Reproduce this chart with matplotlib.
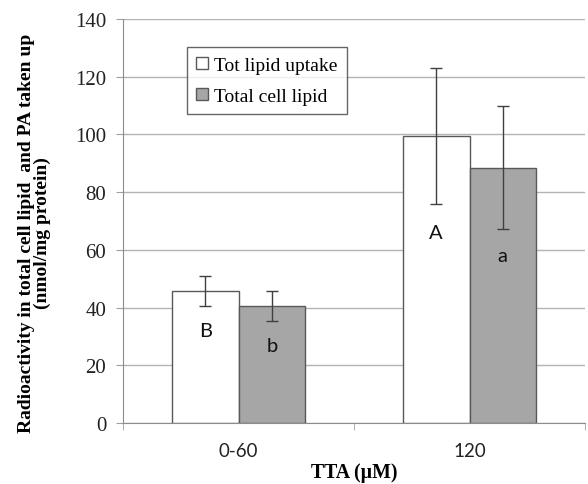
import numpy as np
import matplotlib.pyplot as plt
from matplotlib.ticker import FixedLocator

# data
grupos = ['0-60', '120']
tot_lipid_uptake = [45.8, 99.5]
tot_lipid_err = [5.2, 23.6]
total_cell_lipid = [40.5, 88.4]
total_cell_err = [5.3, 21.3]
letras_uptake = ['B', 'A']
letras_cell = ['b', 'a']
letras_uptake_y = [32, 66]
letras_cell_y = [27, 58]

serif = ['Liberation Serif', 'DejaVu Serif']
sans = ['Lato', 'DejaVu Sans']

fig = plt.figure(figsize=(5.88, 4.85), dpi=100)
ax = fig.add_axes([0.2092, 0.1258, 0.7857, 0.833])

x = np.arange(len(grupos))
largura = 0.288
borda = '#595959'

ax.bar(x - largura / 2, tot_lipid_uptake, largura, color='white',
       edgecolor=borda, linewidth=1.0, label='Tot lipid uptake', zorder=2)
ax.bar(x + largura / 2, total_cell_lipid, largura, color='#a6a6a6',
       edgecolor=borda, linewidth=1.0, label='Total cell lipid', zorder=2)
ax.errorbar(x - largura / 2, tot_lipid_uptake, yerr=tot_lipid_err, fmt='none',
            ecolor='#404040', elinewidth=1.0, capsize=4, capthick=1.0, zorder=3)
ax.errorbar(x + largura / 2, total_cell_lipid, yerr=total_cell_err, fmt='none',
            ecolor='#404040', elinewidth=1.0, capsize=4, capthick=1.0, zorder=3)

for i in range(len(grupos)):
    ax.text(x[i] - largura / 2, letras_uptake_y[i], letras_uptake[i],
            ha='center', va='center', fontsize=14.5, family=sans, color='#111111')
    ax.text(x[i] + largura / 2, letras_cell_y[i], letras_cell[i],
            ha='center', va='center', fontsize=14.5, family=sans, color='#111111')

ax.set_xlim(-0.5, len(grupos) - 0.5)
ax.set_ylim(0, 140)
ax.set_yticks(range(0, 141, 20))
ax.yaxis.grid(True, color='#b3b3b3', linewidth=1.0, zorder=0)
ax.set_axisbelow(True)

ax.set_xticks(x)
ax.set_xticklabels(grupos, family=sans, fontsize=13.5, color='#222222')
ax.xaxis.set_minor_locator(FixedLocator([-0.5, 0.5, 1.5]))
ax.tick_params(axis='x', which='major', length=0, pad=14)
ax.tick_params(axis='x', which='minor', length=5, color='#a0a0a0', direction='out')
ax.tick_params(axis='y', length=5, color='#a0a0a0', pad=7, labelsize=15,
               labelcolor='#222222')
for lbl in ax.get_yticklabels():
    lbl.set_family(serif)

for lado in ['top', 'right']:
    ax.spines[lado].set_visible(False)
ax.spines['left'].set_color('#8c8c8c')
ax.spines['bottom'].set_color('#8c8c8c')

ax.set_xlabel('TTA (\u00b5M)', family=serif, fontweight='bold', fontsize=14.3,
              labelpad=2)
ax.set_ylabel('Radioactivity in total cell lipid  and PA taken up\n(nmol/mg protein)',
              family=serif, fontweight='bold', fontsize=14, linespacing=0.95)
ax.yaxis.set_label_coords(-0.155, 0.473)

leg = ax.legend(loc='upper left', bbox_to_anchor=(0.138, 0.93), prop={'family': serif, 'size': 14},
                frameon=True, fancybox=False, edgecolor='#404040',
                handlelength=0.6, handleheight=0.6, handletextpad=0.3,
                borderpad=0.5, labelspacing=0.7, borderaxespad=0)
leg.get_frame().set_linewidth(1.0)

fig.savefig('out.png', dpi=100)
